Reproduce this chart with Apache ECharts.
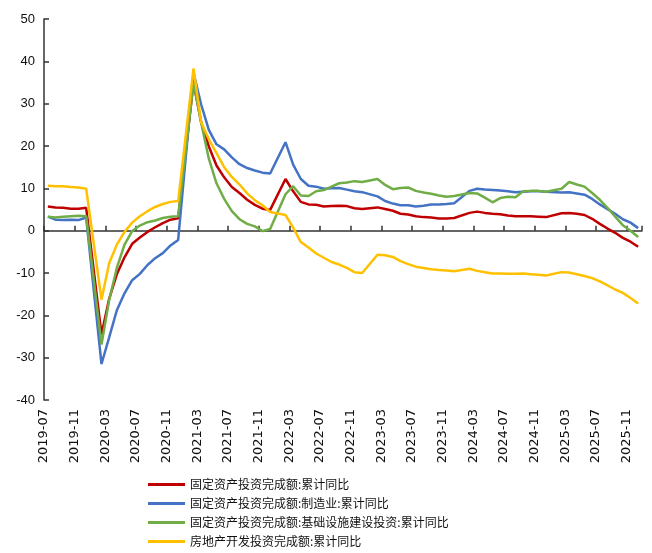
<!DOCTYPE html>
<html>
<head>
<meta charset="utf-8">
<script src="https://cdn.jsdelivr.net/npm/echarts@6/dist/echarts.min.js"></script>
<style>
html,body{margin:0;padding:0;background:#fff;}
#chart{width:652px;height:553px;}
</style>
</head>
<body>
<div id="chart"></div>
<script>
// Months with published cumulative data (January is not published)
const months = [
 '2019-07','2019-08','2019-09','2019-10','2019-11','2019-12',
 '2020-02','2020-03','2020-04','2020-05','2020-06','2020-07','2020-08','2020-09','2020-10','2020-11','2020-12',
 '2021-02','2021-03','2021-04','2021-05','2021-06','2021-07','2021-08','2021-09','2021-10','2021-11','2021-12',
 '2022-02','2022-03','2022-04','2022-05','2022-06','2022-07','2022-08','2022-09','2022-10','2022-11','2022-12',
 '2023-02','2023-03','2023-04','2023-05','2023-06','2023-07','2023-08','2023-09','2023-10','2023-11','2023-12',
 '2024-02','2024-03','2024-04','2024-05','2024-06','2024-07','2024-08','2024-09','2024-10','2024-11','2024-12',
 '2025-02','2025-03','2025-04','2025-05','2025-06','2025-07','2025-08','2025-09','2025-10','2025-11','2025-12'
];
const tickLabels = ['2019-07','2019-11','2020-03','2020-07','2020-11','2021-03','2021-07','2021-11','2022-03','2022-07',
 '2022-11','2023-03','2023-07','2023-11','2024-03','2024-07','2024-11','2025-03','2025-07','2025-11'];

const seriesNames = [
 '固定资产投资完成额:累计同比',
 '固定资产投资完成额:制造业:累计同比',
 '固定资产投资完成额:基础设施建设投资:累计同比',
 '房地产开发投资完成额:累计同比'
];

const fai = [5.7,5.5,5.4,5.2,5.2,5.4,
 -24.5,-16.1,-10.3,-6.3,-3.1,-1.6,-0.3,0.8,1.8,2.6,2.9,
 35.0,25.6,19.9,15.4,12.6,10.3,8.9,7.3,6.1,5.2,4.9,
 12.2,9.3,6.8,6.2,6.1,5.7,5.8,5.9,5.8,5.3,5.1,
 5.5,5.1,4.7,4.0,3.8,3.4,3.2,3.1,2.9,2.9,3.0,
 4.2,4.5,4.2,4.0,3.9,3.6,3.4,3.4,3.4,3.3,3.2,
 4.1,4.2,4.0,3.7,2.8,1.6,0.5,-0.5,-1.7,-2.6,-3.8];

const manu = [3.3,2.6,2.5,2.6,2.5,3.1,
 -31.5,-25.2,-18.8,-14.8,-11.7,-10.2,-8.1,-6.5,-5.3,-3.5,-2.2,
 37.3,29.8,23.8,20.4,19.2,17.3,15.7,14.8,14.2,13.7,13.5,
 20.9,15.6,12.2,10.6,10.4,9.9,10.0,10.1,9.7,9.3,9.1,
 8.1,7.0,6.4,6.0,6.0,5.7,5.9,6.2,6.2,6.3,6.5,
 9.4,9.9,9.7,9.6,9.5,9.3,9.1,9.2,9.3,9.3,9.2,
 9.0,9.1,8.8,8.5,7.5,6.2,5.1,4.0,2.7,1.9,0.6];

const infra = [3.3,3.1,3.3,3.4,3.5,3.4,
 -26.9,-16.4,-8.8,-3.3,-0.1,1.2,2.0,2.4,3.0,3.3,3.4,
 35.0,25.5,17.0,11.2,7.5,4.6,2.7,1.6,1.0,-0.1,0.4,
 8.6,10.5,8.3,8.2,9.3,9.6,10.4,11.2,11.4,11.7,11.5,
 12.2,10.8,9.8,10.1,10.2,9.4,9.0,8.7,8.3,8.0,8.2,
 8.9,8.8,7.8,6.7,7.7,8.0,7.9,9.3,9.4,9.4,9.2,
 9.9,11.5,10.9,10.4,8.9,7.3,5.4,3.3,1.3,0.0,-1.5];

const realEstate = [10.6,10.5,10.5,10.3,10.2,9.9,
 -16.3,-7.7,-3.3,-0.3,1.9,3.4,4.6,5.6,6.3,6.8,7.0,
 38.3,25.6,21.6,18.3,15.0,12.7,10.9,8.8,7.2,6.0,4.4,
 3.7,0.7,-2.7,-4.0,-5.4,-6.4,-7.4,-8.0,-8.8,-9.8,-10.0,
 -5.7,-5.8,-6.2,-7.2,-7.9,-8.5,-8.8,-9.1,-9.3,-9.4,-9.6,
 -9.0,-9.5,-9.8,-10.1,-10.1,-10.2,-10.2,-10.1,-10.3,-10.4,-10.6,
 -9.8,-9.9,-10.3,-10.7,-11.2,-12.0,-12.9,-13.9,-14.7,-15.9,-17.2];

const colors = ['#C00000','#4472C4','#70AD47','#FFC000'];

// month position on the axis: months since 2019-07, plotted mid-month
function monthPos(s){
  const y = +s.slice(0,4), m = +s.slice(5,7);
  return (y-2019)*12 + (m-7) + 0.5;
}
function pairs(vals){ return months.map((mo,i)=>[monthPos(mo), vals[i]]); }

const chart = echarts.init(document.getElementById('chart'), null, {renderer:'canvas'});
const axisColor = '#333';
const option = {
  animation:false,
  backgroundColor:'#fff',
  color: colors,
  grid:{left:44,right:10,top:19,bottom:153,containLabel:false},
  legend:{
    type:'plain', orient:'vertical', left:148, top:477, width:480, height:120,
    itemWidth:37, itemHeight:3, itemGap:4, icon:'rect', padding:0,
    textStyle:{fontSize:12,color:'#111',fontFamily:'"Noto Sans CJK SC"',lineHeight:15},
    data: seriesNames
  },
  xAxis:[
    {type:'value',min:0,max:78,interval:4,position:'bottom',
     axisLine:{show:false,onZero:false},axisTick:{show:false},splitLine:{show:false},
     axisLabel:{rotate:90,fontSize:13,color:'#111',margin:9,fontFamily:'"DejaVu Sans"',
       formatter:(v)=>tickLabels[Math.round(v/4)]||''}},
    {type:'value',min:0,max:78,interval:4,position:'bottom',
     axisLine:{show:true,onZero:true,lineStyle:{color:axisColor,width:1.5}},
     axisTick:{show:true,inside:true,length:5,lineStyle:{color:axisColor,width:1.5}},
     axisLabel:{show:false},splitLine:{show:false}}
  ],
  yAxis:{type:'value',min:-40,max:50,interval:10,
    axisLine:{show:true,onZero:false,lineStyle:{color:axisColor,width:1.5}},
    axisTick:{show:true,inside:true,length:5,lineStyle:{color:axisColor,width:1.5}},
    splitLine:{show:false},
    axisLabel:{fontSize:13,color:'#111',margin:9,fontFamily:'"Liberation Sans"'}},
  series:[fai,manu,infra,realEstate].map((vals,i)=>({
    name:seriesNames[i], type:'line', xAxisIndex:0, data:pairs(vals),
    showSymbol:false, symbol:'none', smooth:false,
    lineStyle:{width:2.5,color:colors[i]}, itemStyle:{color:colors[i]}
  }))
};
chart.setOption(option);
</script>
</body>
</html>
